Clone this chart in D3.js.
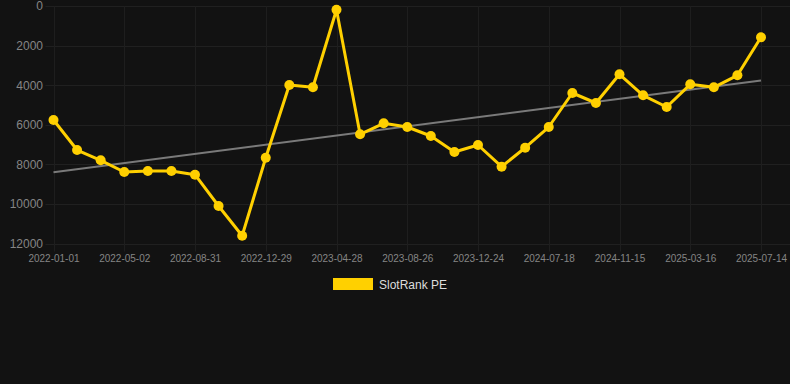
<!DOCTYPE html>
<html>
<head>
<meta charset="utf-8">
<script src="https://cdn.jsdelivr.net/npm/d3@7"></script>
<style>
html,body{margin:0;padding:0;background:#121212;}
svg{display:block;}
</style>
</head>
<body>
<svg id="c" width="790" height="384"></svg>
<script>
const dates = ["2022-01-01","2022-02-10","2022-03-22","2022-05-02","2022-06-11","2022-07-21","2022-08-31","2022-10-10","2022-11-19","2022-12-29","2023-02-07","2023-03-19","2023-04-28","2023-06-07","2023-07-17","2023-08-26","2023-10-05","2023-11-14","2023-12-24","2024-03-03","2024-05-11","2024-07-18","2024-08-27","2024-10-06","2024-11-15","2024-12-25","2025-02-03","2025-03-16","2025-04-25","2025-06-04","2025-07-14"];
const values = [5760,7276,7798,8388,8337,8337,8524,10106,11606,7665,3992,4108,187,6483,5928,6114,6569,7377,7024,8120,7160,6114,4396,4901,3451,4512,5104,3957,4108,3502,1582];
const yTicks = [0,2000,4000,6000,8000,10000,12000];
const seriesName = "SlotRank PE";

(function () {
const svg = d3.select("#c");
const pLeft = 53.5, pRight = 761, pTop = 6, pBottom = 243.5;

const x = d3.scalePoint().domain(dates).range([pLeft, pRight]);
const y = d3.scaleLinear().domain([0, 12000]).range([pTop, pBottom]);

const shownDates = dates.filter((d, i) => i % 3 === 0);

// horizontal grid
svg.append("g").selectAll("line").data(yTicks).join("line")
  .attr("x1", pLeft - 8).attr("x2", 790)
  .attr("y1", d => Math.round(y(d)) + 0.5).attr("y2", d => Math.round(y(d)) + 0.5)
  .attr("stroke", "#202020").attr("stroke-width", 1);

// vertical grid
svg.append("g").selectAll("line").data(shownDates).join("line")
  .attr("x1", d => Math.round(x(d)) + 0.5).attr("x2", d => Math.round(x(d)) + 0.5)
  .attr("y1", pTop).attr("y2", pBottom + 8)
  .attr("stroke", "#1e1e1e").attr("stroke-width", 1);

// y axis labels
const yAxis = d3.axisLeft(y).tickValues(yTicks).tickSize(0).tickPadding(0).tickFormat(d => String(d));
const gy = svg.append("g").attr("transform", "translate(43,0)").call(yAxis);
gy.select(".domain").remove();
gy.selectAll("text").attr("fill", "#858585").style("font-family", "Liberation Sans, Arial, sans-serif").style("font-size", "12px");

// x axis labels
const xAxis = d3.axisBottom(x).tickValues(shownDates).tickSize(0).tickPadding(0);
const gx = svg.append("g").attr("transform", `translate(0,${pBottom + 11})`).call(xAxis);
gx.select(".domain").remove();
gx.selectAll("text").attr("fill", "#858585").style("font-family", "Liberation Sans, Arial, sans-serif").style("font-size", "10px");

// trend line (least squares)
const n = values.length;
const idx = values.map((v, i) => i);
const mx = d3.mean(idx), my = d3.mean(values);
const slope = d3.sum(idx, i => (i - mx) * (values[i] - my)) / d3.sum(idx, i => (i - mx) * (i - mx));
const icpt = my - slope * mx;
svg.append("line")
  .attr("x1", x(dates[0])).attr("y1", y(icpt))
  .attr("x2", x(dates[n - 1])).attr("y2", y(icpt + slope * (n - 1)))
  .attr("stroke", "#7a7a7a").attr("stroke-width", 2);

// series line
const line = d3.line().x((d, i) => x(dates[i])).y(d => y(d));
svg.append("path").datum(values)
  .attr("d", line).attr("fill", "none")
  .attr("stroke", "#FFD000").attr("stroke-width", 3).attr("stroke-linejoin", "round");

svg.append("g").selectAll("circle").data(values).join("circle")
  .attr("cx", (d, i) => x(dates[i])).attr("cy", d => y(d)).attr("r", 5)
  .attr("fill", "#FFD000");

// legend
const lg = svg.append("g");
lg.append("rect").attr("x", 333).attr("y", 278).attr("width", 40).attr("height", 12).attr("fill", "#FFD000");
lg.append("text").attr("x", 379).attr("y", 288.5).text(seriesName)
  .attr("fill", "#dddddd").style("font-family", "Liberation Sans, Arial, sans-serif").style("font-size", "12px");
})();
</script>
</body>
</html>
